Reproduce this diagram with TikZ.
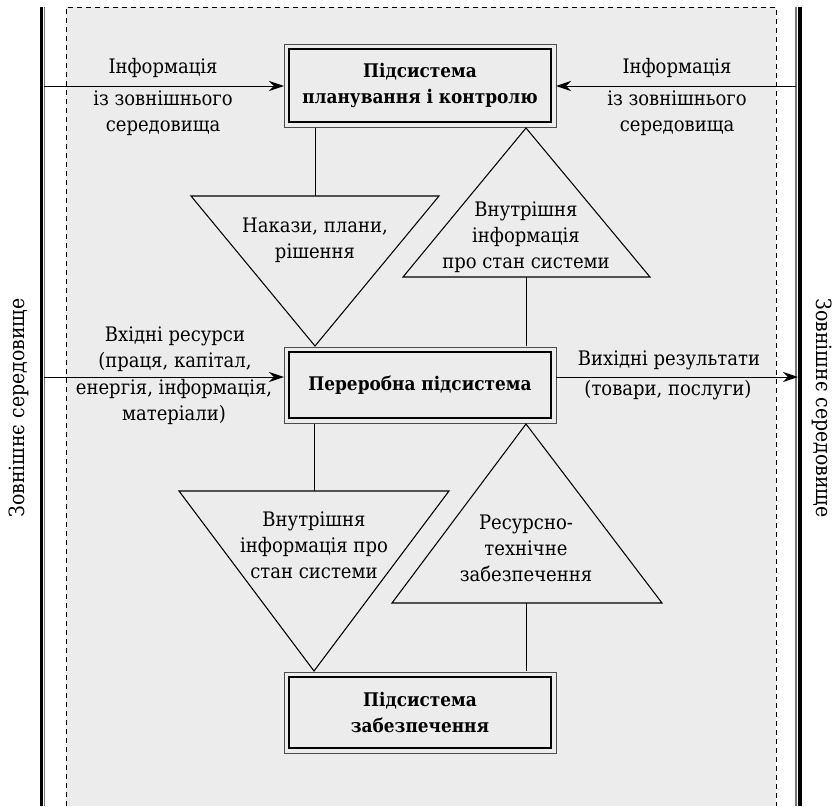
\documentclass[tikz,border=0pt]{standalone}
\usepackage{fontspec}
\setmainfont{DejaVu Serif}[FakeStretch=0.9]
\usetikzlibrary{arrows.meta,calc}
\definecolor{bgfill}{HTML}{EBECEB}
\tikzset{
  box/.style={draw=black, line width=1.1pt, minimum width=262pt, inner sep=0pt, align=center, font=\fontsize{18.8}{26}\selectfont\bfseries},
  outerbox/.style={draw=black!70, line width=1pt},
  lbl/.style={align=center, inner sep=0pt, font=\fontsize{20}{26}\selectfont},
  conn/.style={line width=1pt},
  tri/.style={line width=1.05pt, fill=bgfill},
  arr/.style={line width=1pt, -{Stealth[length=15pt,width=10pt]}},
  side/.style={font=\fontsize{21}{26}\selectfont, inner sep=0pt},
}
\begin{document}
\begin{tikzpicture}[x=1pt,y=-1pt]
\useasboundingbox (0,0) rectangle (838,806);
% background area
\fill[bgfill] (66,7) rectangle (776,806);
\draw[dashed, line width=0.8pt, dash pattern=on 5pt off 4pt] (66,806) -- (66,7) -- (776,7) -- (776,806);
% walls
\draw[line width=3pt] (41,7) -- (41,806);
\draw[line width=1.2pt, black!55] (44.8,7) -- (44.8,806);
\draw[line width=1.2pt, black!55] (796,7) -- (796,806);
\draw[line width=3.5pt] (800,7) -- (800,806);
\coordinate (lwall1) at (44,86);
\coordinate (rwall1) at (796,86);
\coordinate (lwall2) at (44,377);
\coordinate (rwall2) at (798,377);
% side labels
\node[side, rotate=90] (envL) at (19,408) {Зовнішнє середовище};
\node[side, rotate=-90] (envR) at (822,408) {Зовнішнє середовище};

% boxes
\draw[outerbox] (284,44) rectangle (556,127);
\node[box, minimum width=262pt, minimum height=73pt] (plan) at (420,85.5) {Підсистема\\планування і контролю};
\draw[outerbox] (284,347) rectangle (556,423);
\node[box, minimum width=262pt, minimum height=66pt] (proc) at (420,385) {Переробна підсистема};
\draw[outerbox] (284,672) rectangle (556,753);
\node[box, minimum width=262pt, minimum height=71pt] (supp) at (420,712.5) {Підсистема\\забезпечення};

% triangles upper
\coordinate (t1a) at (191,196);
\coordinate (t1b) at (439,196);
\coordinate (t1c) at (315,346);
\coordinate (t1top) at (315,196);
\draw[tri] (t1a) -- (t1b) -- (t1c) -- cycle;
\node[lbl] (t1txt) at (315,240) {Накази, плани,\\рішення};
\coordinate (t2a) at (403,277);
\coordinate (t2b) at (650,277);
\coordinate (t2c) at (526,128);
\coordinate (t2bot) at (526,277);
\draw[tri] (t2a) -- (t2b) -- (t2c) -- cycle;
\node[lbl] (t2txt) at (526,237) {Внутрішня\\інформація\\про стан системи};
% triangles lower
\coordinate (t3a) at (179,491);
\coordinate (t3b) at (449,491);
\coordinate (t3c) at (314,671);
\coordinate (t3top) at (314,491);
\draw[tri] (t3a) -- (t3b) -- (t3c) -- cycle;
\node[lbl] (t3txt) at (314,545) {Внутрішня\\інформація про\\стан системи};
\coordinate (t4a) at (392,603);
\coordinate (t4b) at (662,603);
\coordinate (t4c) at (526,424);
\coordinate (t4bot) at (526,603);
\draw[tri] (t4a) -- (t4b) -- (t4c) -- cycle;
\node[lbl] (t4txt) at (526,548) {Ресурсно-\\технічне\\забезпечення};

% connectors
\draw[conn] ($(plan.south -| t1top)+(0,5)$) -- (t1top);
\draw[conn] (t2bot) -- ($(proc.north -| t2bot)+(0,-5)$);
\draw[conn] ($(proc.south -| t3top)+(0,5)$) -- (t3top);
\draw[conn] (t4bot) -- ($(supp.north -| t4bot)+(0,-5)$);

% arrows
\draw[arr] (lwall1) -- (284,86);
\draw[arr] (rwall1) -- (556,86);
\draw[arr] (lwall2) -- (284,377);
\draw[arr] (556,377) -- (rwall2);

% arrow labels (base anchor = baseline of last line)
\node[lbl, anchor=base] (inL1) at (163,73) {Інформація};
\node[lbl, anchor=base] (inL2) at (163,131) {із зовнішнього\\середовища};
\node[lbl, anchor=base] (inR1) at (677,73) {Інформація};
\node[lbl, anchor=base] (inR2) at (677,131) {із зовнішнього\\середовища};
\node[lbl, anchor=base] (res1) at (175,367) {Вхідні ресурси\\(праця, капітал,};
\node[lbl, anchor=base] (res2) at (174,420) {енергія, інформація,\\матеріали)};
\node[lbl, anchor=base] (out1) at (669,365) {Вихідні результати};
\node[lbl, anchor=base] (out2) at (668,395) {(товари, послуги)};
\end{tikzpicture}
\end{document}
